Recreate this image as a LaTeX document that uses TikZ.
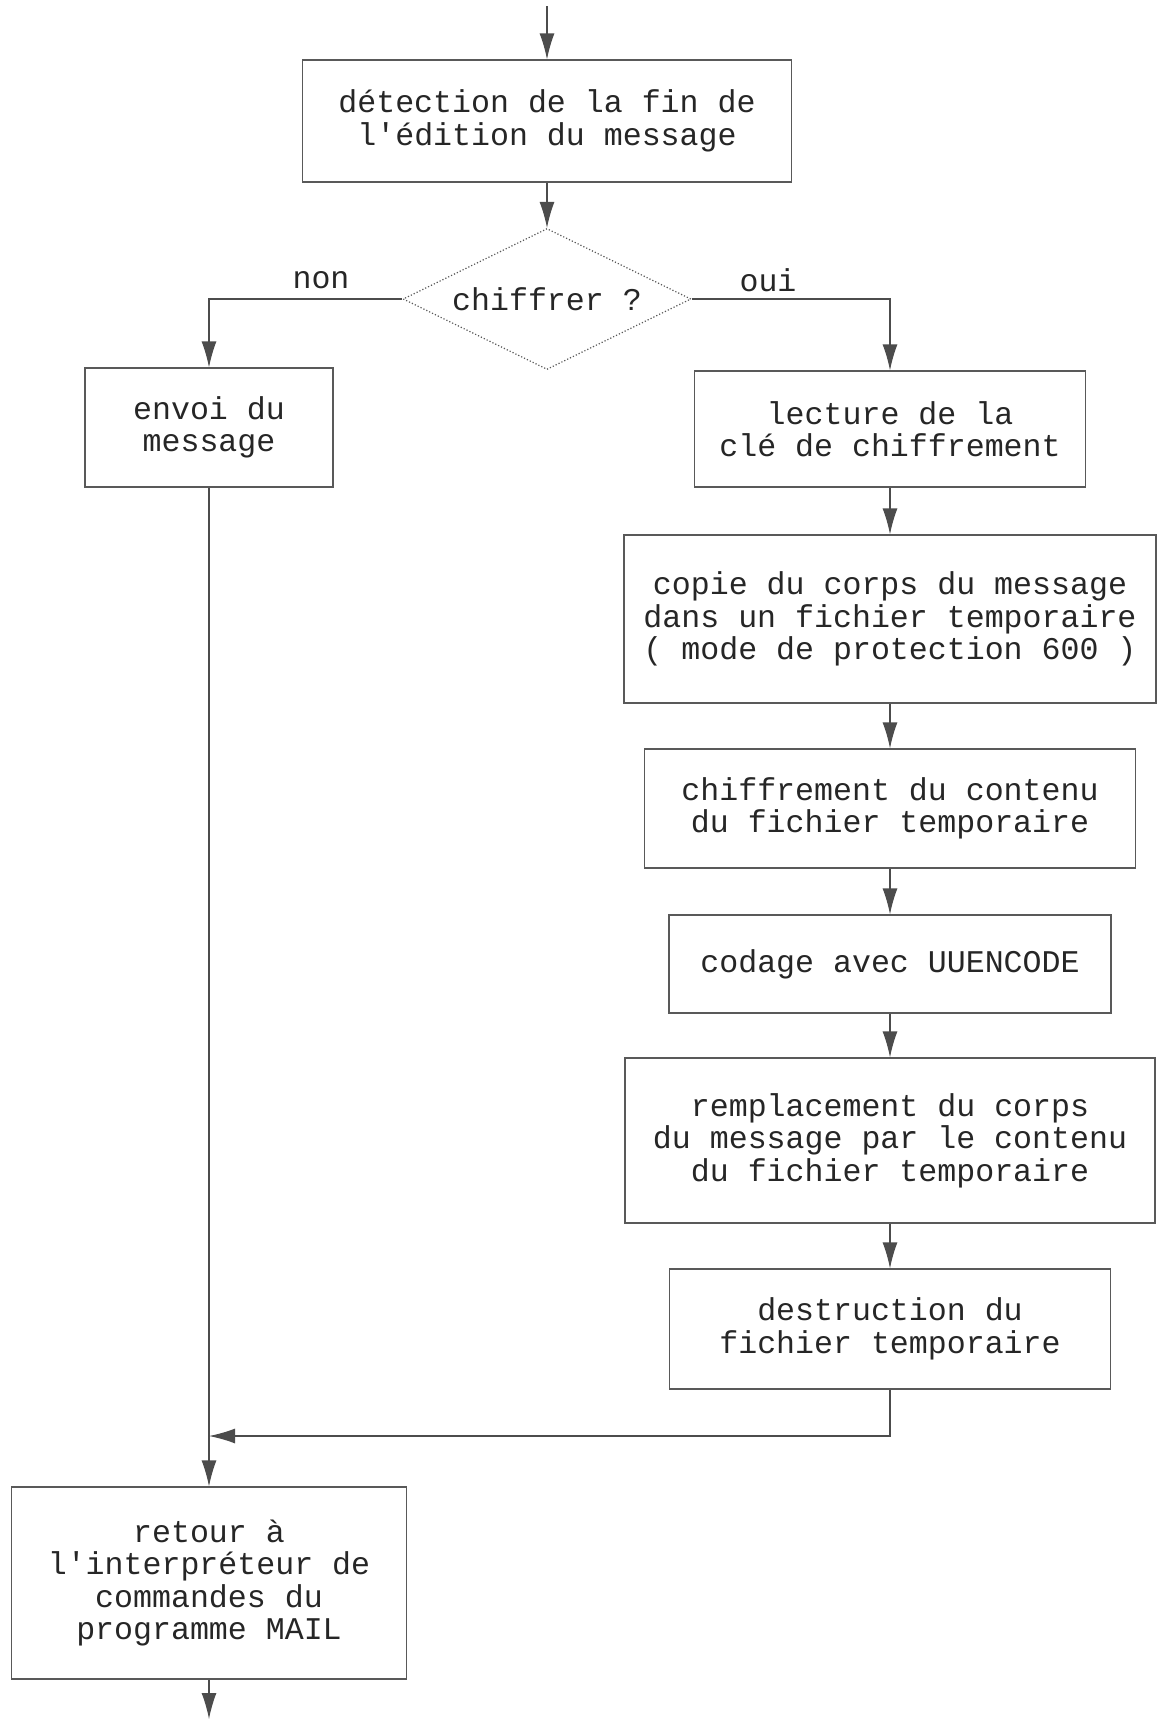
\documentclass[tikz,border=0pt]{standalone}
\usepackage{fontspec}
\setmonofont{Liberation Mono}
\usetikzlibrary{shapes.geometric,arrows.meta}
\begin{document}
\begin{tikzpicture}[x=0.5pt,y=-0.5pt,
  every node/.style={font=\ttfamily\fontsize{15.8}{16.2}\selectfont, text=black!85},
  stepbox/.style={draw=black!65, line width=0.6pt, align=center, inner sep=0pt},
  decision/.style={diamond, draw=black!65, line width=0.6pt, densely dotted, inner sep=0pt, aspect=2},
  flow/.style={draw=black!70, line width=0.6pt, -{Latex[length=13pt,width=7.5pt]}},
  lbl/.style={inner sep=0pt}]
\useasboundingbox (0,0) rectangle (1158,1721);
\coordinate (start) at (547,6);
\node[stepbox, minimum width=244.5pt, minimum height=61pt] (detect) at (547,121) {détection de la fin de\\l'édition du message};
\node[decision, minimum width=144pt, minimum height=70.5pt] (chiff) at (547,299) {chiffrer ?};
\node[lbl] (non) at (321,280) {non};
\node[lbl] (oui) at (768,280) {oui};
\node[stepbox, minimum width=124pt, minimum height=59.5pt] (envoi) at (209,427.5) {envoi du\\message};
\node[stepbox, minimum width=195.5pt, minimum height=58pt] (lecture) at (890,429) {lecture de la\\clé de chiffrement};
\node[stepbox, minimum width=266pt, minimum height=84pt] (copie) at (890,619) {copie du corps du message\\dans un fichier temporaire\\( mode de protection 600 )};
\node[stepbox, minimum width=245.5pt, minimum height=59.5pt] (chiffr) at (890,808.5) {chiffrement du contenu\\du fichier temporaire};
\node[stepbox, minimum width=221pt, minimum height=49pt] (codage) at (890,964) {codage avec UUENCODE};
\node[stepbox, minimum width=265pt, minimum height=82.5pt] (rempl) at (890,1140.5) {remplacement du corps\\du message par le contenu\\du fichier temporaire};
\node[stepbox, minimum width=220.5pt, minimum height=60pt] (destr) at (890,1329) {destruction du\\fichier temporaire};
\node[stepbox, minimum width=197.5pt, minimum height=96pt] (retour) at (209,1583) {retour à\\l'interpréteur de\\commandes du\\programme MAIL};
\coordinate (merge) at (209,1436);
\coordinate (end) at (209,1719);
\draw[flow] (start) -- (detect);
\draw[flow] (detect) -- (chiff);
\draw[flow] (chiff.west) -| (envoi.north);
\draw[flow] (chiff.east) -| (lecture.north);
\draw[flow] (lecture) -- (copie);
\draw[flow] (copie) -- (chiffr);
\draw[flow] (chiffr) -- (codage);
\draw[flow] (codage) -- (rempl);
\draw[flow] (rempl) -- (destr);
\draw[flow] (envoi) -- (retour);
\draw[flow] (destr.south) |- (merge);
\draw[flow] (retour) -- (end);
\end{tikzpicture}
\end{document}
